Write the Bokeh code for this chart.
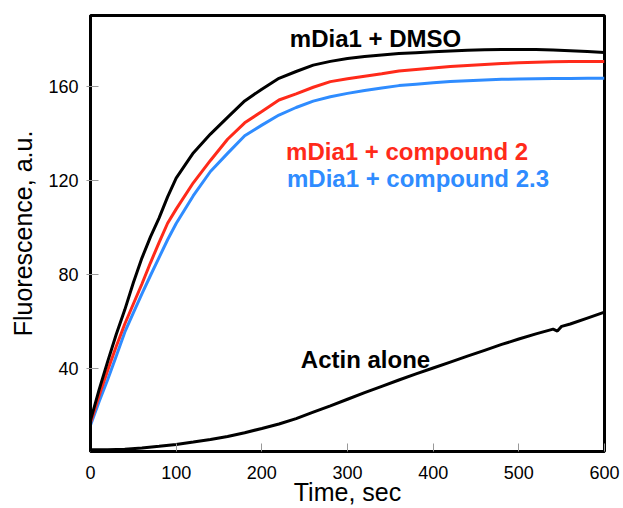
from bokeh.plotting import figure
from bokeh.models import Range1d, FixedTicker, ColumnDataSource
from bokeh.core.properties import value
from bokeh.embed import file_html
from bokeh.resources import INLINE

# ---- data ----
time_mdia = [0, 10, 20, 30, 40, 50, 60, 70, 80, 90, 100,
             120, 140, 160, 180, 200, 220, 240, 260, 280, 300, 320, 340, 360,
             380, 400, 420, 440, 460, 480, 500, 520, 540, 560, 580, 600]
dmso = [18, 31, 43, 54.5, 65, 76.5, 87, 96, 104, 113, 121,
        131.7, 139.7, 146.8, 153.8, 158.8, 163.4, 166.3, 169, 170.6, 171.8, 172.7,
        173.3, 173.9, 174.3, 174.7, 175, 175.3, 175.5, 175.7, 175.7, 175.6, 175.4,
        175.1, 174.8, 174.4]
compound2 = [17, 28.5, 39.2, 49.4, 59, 67.5, 76, 85, 93.6, 101.8, 107.8,
             119, 128.5, 137.5, 144.5, 149.3, 154.2, 156.8, 159.6, 162, 163.2, 164.3,
             165.3, 166.5, 167.2, 167.8, 168.4, 168.9, 169.3, 169.7, 170, 170.2, 170.4,
             170.5, 170.6, 170.6]
compound23 = [16, 26, 35.3, 45.3, 55.5, 63.7, 71.8, 79.6, 87.2, 94.8, 101.7,
              113.5, 123.8, 131.5, 139, 143.5, 147.8, 151, 153.7, 155.6, 157, 158.2,
              159.3, 160.3, 160.9, 161.5, 162, 162.4, 162.7, 163, 163.1, 163.2, 163.3,
              163.3, 163.4, 163.4]
time_actin = [0, 20, 40, 60, 80, 100, 120, 140, 160, 180, 200, 220, 240, 260, 280,
              300, 320, 340, 360, 380, 400, 420, 440, 460, 480, 500, 520, 540, 545,
              550, 560, 580, 600]
actin_alone = [5.5, 5.5, 5.8, 6.3, 7, 7.8, 8.8, 9.9, 11.2, 12.8, 14.6, 16.5, 18.8,
               21.5, 24.2, 27, 29.8, 32.5, 35.2, 37.8, 40.3, 42.8, 45.3, 47.8, 50.3,
               52.6, 54.8, 56.8, 56.0, 58.0, 59, 61.5, 64]

x_ticks = [0, 100, 200, 300, 400, 500, 600]
y_ticks = [40, 80, 120, 160]

labels = ["mDia1 + DMSO", "mDia1 + compound 2", "mDia1 + compound 2.3", "Actin alone"]
label_x = [332.7, 369.6, 382.3, 321.0]
label_y = [180.5, 132.1, 120.8, 43.8]
label_colors = ["black", "#FF2A1A", "#2F8CFF", "black"]

RED = "#FF2A1A"
BLUE = "#2F8CFF"

p = figure(width=623, height=508, output_backend="svg", toolbar_location=None,
           x_range=Range1d(0, 600), y_range=Range1d(4.8, 190.1),
           min_border_left=90, min_border_right=19, min_border_top=15,
           min_border_bottom=56)

p.xgrid.visible = False
p.ygrid.visible = False
p.outline_line_color = "black"
p.outline_line_width = 3
p.background_fill_color = "white"
p.border_fill_color = "white"

p.line(time_actin, actin_alone, line_color="black", line_width=3)
p.line(time_mdia, compound23, line_color=BLUE, line_width=3)
p.line(time_mdia, compound2, line_color=RED, line_width=3)
p.line(time_mdia, dmso, line_color="black", line_width=3)

src = ColumnDataSource(dict(x=label_x, y=label_y, t=labels, c=label_colors))
p.text(x="x", y="y", text="t", text_color="c", source=src,
       text_font=value("Liberation Sans"), text_font_style="bold",
       text_font_size="24px", text_align="center", text_baseline="alphabetic")

for ax in (p.xaxis[0], p.yaxis[0]):
    ax.axis_line_color = "black"
    ax.axis_line_width = 3
    ax.major_tick_line_color = "#999999"
    ax.major_tick_line_width = 1
    ax.minor_tick_line_color = None
    ax.major_label_text_font = "Liberation Sans"
    ax.major_label_text_font_size = "18px"
    ax.major_label_text_color = "black"
    ax.axis_label_text_font = "Liberation Sans"
    ax.axis_label_text_font_style = "normal"
    ax.axis_label_text_font_size = "25px"
    ax.axis_label_text_color = "black"

p.xaxis.ticker = FixedTicker(ticks=x_ticks)
p.yaxis.ticker = FixedTicker(ticks=y_ticks)
p.xaxis.axis_label = "Time, sec"
p.yaxis.axis_label = "Fluorescence, a.u."

p.xaxis.major_tick_in = 8
p.xaxis.major_tick_out = 0
p.xaxis.major_label_standoff = 14
p.xaxis.axis_label_standoff = -4

p.yaxis.major_tick_in = 8
p.yaxis.major_tick_out = 4
p.yaxis.major_label_standoff = 8
p.yaxis.axis_label_standoff = 8

open("out.html", "w").write(file_html(p, INLINE))
